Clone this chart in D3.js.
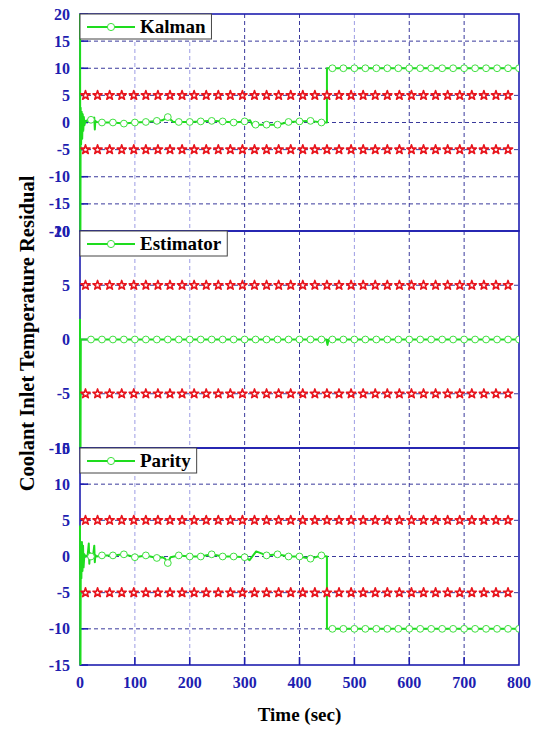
<!DOCTYPE html>
<html>
<head>
<meta charset="utf-8">
<script src="https://cdn.jsdelivr.net/npm/d3@7/dist/d3.min.js"></script>
<style>
  html, body { margin: 0; padding: 0; background: #fff; }
  svg { display: block; }
</style>
</head>
<body>
<script>
// ---- data -------------------------------------------------------------
const timeTicks = [0, 100, 200, 300, 400, 500, 600, 700, 800];

const seriesNames = ["Kalman", "Estimator", "Parity"];

const kalmanTicks = [20, 15, 10, 5, 0, -5, -10, -15, -20];
const estimatorTicks = [10, 5, 0, -5, -10];
const parityTicks = [15, 10, 5, 0, -5, -10, -15];

// residual of the Kalman filter (time in s, residual)
const kalmanTime = [0, 0.6, 1.2, 2, 3, 4, 5, 6, 7, 8, 10, 12, 14, 16, 20, 24, 26, 27, 28, 30,
  40, 60, 80, 100, 120, 140, 150, 160, 170, 180, 200, 220, 240, 260, 280, 300, 310, 315, 320,
  340, 360, 380, 400, 420, 440, 450, 450, 460, 480, 500, 520, 540, 560, 580, 600, 620, 640,
  660, 680, 700, 720, 740, 760, 780, 800];
const kalmanValue = [30, -30, 2.7, -4, 2, -3, 1.5, -1.5, 1, -0.5, 0.3, 0.2, 0.5, 0.2, 0.5, 0.2, 0.9, -1.3, 0.3, 0.1,
  0, 0, -0.2, 0, 0.1, 0.3, 0.4, 1.0, 0.1, 0.1, 0.1, 0.2, 0.3, 0.2, 0, 0.2, 0.4, -0.6, -0.4,
  -0.4, -0.4, 0.1, 0.2, 0.3, 0, 0, 10, 10, 10, 10, 10, 10, 10, 10, 10, 10, 10,
  10, 10, 10, 10, 10, 10, 10, 10];

// residual of the state estimator
const estimatorTime = [0, 0.7, 1.5, 3, 20, 40, 60, 80, 100, 120, 140, 160, 180, 200, 220, 240,
  260, 280, 300, 320, 340, 360, 380, 400, 420, 440, 449, 451, 453, 460, 480, 500, 520, 540,
  560, 580, 600, 620, 640, 660, 680, 700, 720, 740, 760, 780, 800];
const estimatorValue = [1.9, -15, 0, 0, 0, 0, 0, 0, 0, 0, 0, 0, 0, 0, 0, 0,
  0, 0, 0, 0, 0, 0, 0, 0, 0, 0, 0, -0.5, 0, 0, 0, 0, 0, 0,
  0, 0, 0, 0, 0, 0, 0, 0, 0, 0, 0, 0, 0];

// residual of the parity-space method
const parityTime = [0, 0.7, 1.5, 2.5, 3.5, 4.5, 5.5, 6.5, 8, 10, 14, 16, 17, 18, 20, 24, 26, 27, 28, 30,
  40, 60, 80, 100, 120, 140, 150, 155, 160, 165, 180, 200, 220, 240, 260, 280, 300, 309, 321,
  340, 360, 380, 400, 420, 440, 450, 450, 460, 480, 500, 520, 540, 560, 580, 600, 620, 640,
  660, 680, 700, 720, 740, 760, 780, 800];
const parityValue = [4.3, -20, 1, -3, 2, -2, 1.5, -1.5, 0.3, 0, 0.2, 1.8, -1, 0.5, 0, 0.2, 1.5, -0.8, 0.2, 0,
  0.15, 0.15, 0.3, -0.1, 0.15, -0.2, -0.1, -0.3, -0.9, -0.1, 0.15, 0, 0, 0.3, 0, 0, -0.1, -0.5, 0.7,
  0.15, 0.3, 0, 0, -0.3, 0.15, 0, -10, -10, -10, -10, -10, -10, -10, -10, -10, -10, -10,
  -10, -10, -10, -10, -10, -10, -10, -10];

// detection thresholds, drawn as star markers
const starTimes = [10, 32, 54, 76, 98, 120, 142, 164, 186, 208, 230, 252, 274, 296, 318, 340,
  362, 384, 406, 428, 450, 472, 494, 516, 538, 560, 582, 604, 626, 648, 670, 692, 714, 736, 758, 780];
const thresholdLevels = [5, -5];

// ---- layout -----------------------------------------------------------
const W = 537, H = 731;
const plotLeft = 80, plotRight = 519;
const panelTops = [14, 231, 448];
const panelH = 217;

const BLUE = "#1e1eb0";
const GREEN = "#1edc1e";
const RED = "#e8141c";
const FONT = "'Liberation Serif', 'Times New Roman', serif";

const panels = [
  { name: seriesNames[0], ticks: kalmanTicks, time: kalmanTime, value: kalmanValue },
  { name: seriesNames[1], ticks: estimatorTicks, time: estimatorTime, value: estimatorValue },
  { name: seriesNames[2], ticks: parityTicks, time: parityTime, value: parityValue }
];

const svg = d3.select("body").append("svg")
  .attr("width", W).attr("height", H)
  .style("font-family", FONT);

const x = d3.scaleLinear().domain([0, 800]).range([plotLeft, plotRight]);

const lightGrid = new Set([100, 200, 500]);

panels.forEach((p, i) => {
  const top = panelTops[i];
  const y = d3.scaleLinear()
    .domain([d3.min(p.ticks), d3.max(p.ticks)])
    .range([top + panelH, top]);

  const g = svg.append("g");

  // clip region for data
  const clipId = "clip" + i;
  svg.append("clipPath").attr("id", clipId)
    .append("rect")
    .attr("x", plotLeft - 1.5).attr("y", top)
    .attr("width", plotRight - plotLeft + 1.5).attr("height", panelH);

  // vertical grid
  g.append("g").selectAll("line")
    .data(timeTicks.filter(t => t > 0 && t < 800))
    .join("line")
    .attr("x1", d => x(d)).attr("x2", d => x(d))
    .attr("y1", top).attr("y2", top + panelH)
    .attr("stroke", d => lightGrid.has(d) ? "#9c9ce4" : "#3a3a9c")
    .attr("stroke-width", 1)
    .attr("stroke-dasharray", "4,3");

  // horizontal grid
  g.append("g").selectAll("line")
    .data(p.ticks.slice(1, -1))
    .join("line")
    .attr("x1", plotLeft).attr("x2", plotRight)
    .attr("y1", d => y(d)).attr("y2", d => y(d))
    .attr("stroke", "#3a3a9c")
    .attr("stroke-width", 1)
    .attr("stroke-dasharray", "4,3");

  // panel frame
  g.append("rect")
    .attr("x", plotLeft).attr("y", top)
    .attr("width", plotRight - plotLeft).attr("height", panelH)
    .attr("fill", "none").attr("stroke", BLUE).attr("stroke-width", 1.6);

  // y ticks (inward) and labels
  g.append("g").selectAll("line")
    .data(p.ticks)
    .join("line")
    .attr("x1", plotLeft).attr("x2", plotLeft + 8)
    .attr("y1", d => y(d)).attr("y2", d => y(d))
    .attr("stroke", BLUE).attr("stroke-width", 1.6);

  g.append("g").selectAll("text")
    .data(p.ticks)
    .join("text")
    .attr("x", 70).attr("y", d => y(d))
    .attr("dy", "0.35em")
    .attr("text-anchor", "end")
    .attr("font-size", 16).attr("font-weight", "bold")
    .attr("fill", BLUE)
    .text(d => d);

  // residual series
  const pts = p.time.map((t, k) => [t, p.value[k]]);
  const dg = svg.append("g").attr("clip-path", `url(#${clipId})`);
  dg.append("path")
    .datum(pts)
    .attr("d", d3.line().x(d => x(d[0])).y(d => y(d[1])))
    .attr("fill", "none").attr("stroke", GREEN)
    .attr("stroke-width", 2).attr("stroke-linejoin", "round");

  dg.append("g").selectAll("circle")
    .data(pts.filter(d => d[0] >= 20 && d[0] % 20 === 0))
    .join("circle")
    .attr("cx", d => x(d[0])).attr("cy", d => y(d[1]))
    .attr("r", 3.4)
    .attr("fill", "#fff").attr("stroke", "#3ee03e").attr("stroke-width", 1);

  // threshold stars
  const star = d3.symbol(d3.symbolStar, 26);
  thresholdLevels.forEach(level => {
    dg.append("g").selectAll("path")
      .data(starTimes)
      .join("path")
      .attr("d", star)
      .attr("transform", t => `translate(${x(t)},${y(level)})`)
      .attr("fill", "#fff").attr("stroke", RED).attr("stroke-width", 1.6)
      .attr("stroke-linejoin", "round");
  });

  // legend
  const lg = svg.append("g").attr("transform", `translate(${plotLeft},${top})`);
  const box = lg.append("rect")
    .attr("x", 0).attr("y", 0).attr("height", 25)
    .attr("fill", "#fff").attr("stroke", "#444").attr("stroke-width", 1);
  lg.append("line")
    .attr("x1", 7).attr("x2", 55).attr("y1", 13).attr("y2", 13)
    .attr("stroke", GREEN).attr("stroke-width", 2.2);
  lg.append("circle")
    .attr("cx", 31).attr("cy", 13).attr("r", 3.6)
    .attr("fill", "#fff").attr("stroke", "#3ee03e").attr("stroke-width", 1);
  const label = lg.append("text")
    .attr("x", 60).attr("y", 19)
    .attr("font-size", 19).attr("font-weight", "bold")
    .attr("fill", "#000")
    .text(p.name);
  box.attr("width", 60 + label.node().getComputedTextLength() + 6);
});

// x axis on the bottom panel
const bottom = panelTops[2] + panelH;
svg.append("g").selectAll("line")
  .data(timeTicks.filter(t => t > 0 && t < 800))
  .join("line")
  .attr("x1", d => x(d)).attr("x2", d => x(d))
  .attr("y1", bottom).attr("y2", bottom - 8)
  .attr("stroke", BLUE).attr("stroke-width", 1.6);

svg.append("g").selectAll("text")
  .data(timeTicks)
  .join("text")
  .attr("x", d => x(d)).attr("y", bottom + 23)
  .attr("text-anchor", "middle")
  .attr("font-size", 16).attr("font-weight", "bold")
  .attr("fill", BLUE)
  .text(d => d);

// axis titles
svg.append("text")
  .attr("x", (plotLeft + plotRight) / 2).attr("y", 721)
  .attr("text-anchor", "middle")
  .attr("font-size", 19).attr("font-weight", "bold")
  .text("Time (sec)");

svg.append("text")
  .attr("transform", `translate(34,${(panelTops[0] + bottom) / 2 - 6}) rotate(-90)`)
  .attr("text-anchor", "middle")
  .attr("font-size", 20.5).attr("font-weight", "bold")
  .text("Coolant Inlet Temperature Residual");
</script>
</body>
</html>
